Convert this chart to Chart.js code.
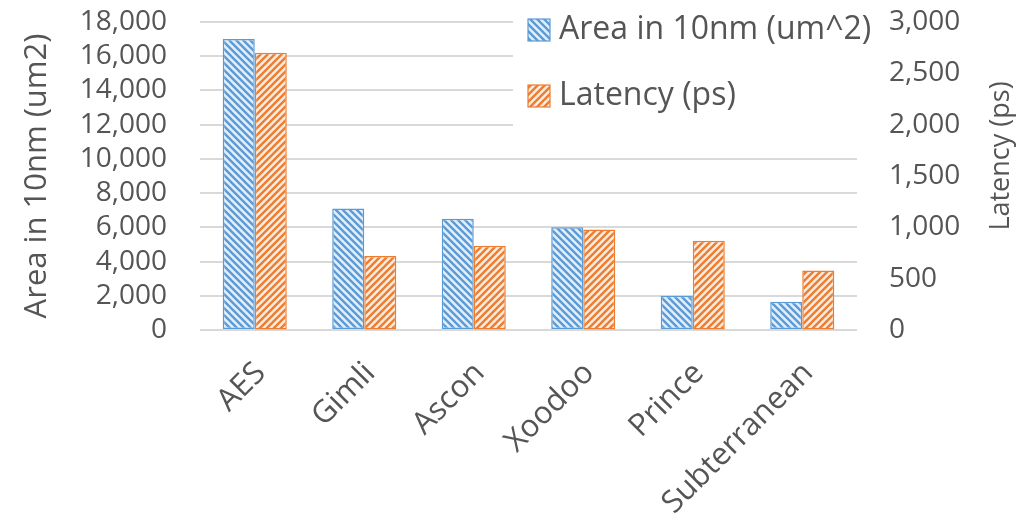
<!DOCTYPE html>
<html>
<head>
<meta charset="utf-8">
<script src="https://cdn.jsdelivr.net/npm/chart.js@4/dist/chart.umd.min.js"></script>
<style>
  html, body { margin: 0; padding: 0; background: #fff; }
  #wrap { width: 1026px; height: 528px; }
</style>
</head>
<body>
<div id="wrap"><canvas id="chart" width="1026" height="528"></canvas></div>
<script>
const categories = ["AES", "Gimli", "Ascon", "Xoodoo", "Prince", "Subterranean"];
const areaValues = [17000, 7100, 6500, 6000, 2000, 1650];
const latencyValues = [2700, 720, 820, 980, 870, 580];
const areaLabel = "Area in 10nm (um^2)";
const latencyLabel = "Latency (ps)";
const leftTitle = "Area in 10nm (um2)";
const rightTitle = "Latency (ps)";

const TEXT = "#555555";
const FONT = "'Open Sans', sans-serif";
const CLEAR = "rgba(0,0,0,0)";

// diagonal hatch tile, dir "down" = \\\ , "up" = ///
function makeHatch(bg, fg, dir) {
  const n = 7;
  const c = document.createElement("canvas");
  c.width = n; c.height = n;
  const g = c.getContext("2d");
  g.fillStyle = bg;
  g.fillRect(0, 0, n, n);
  g.strokeStyle = fg;
  g.lineWidth = 2.4;
  g.beginPath();
  for (let k = -1; k <= 2; k++) {
    if (dir === "down") {
      g.moveTo(-1, -1 + k * n);
      g.lineTo(n + 1, n + 1 + k * n);
    } else {
      g.moveTo(-1, k * n + 1);
      g.lineTo(n + 1, k * n - n - 1);
    }
  }
  g.stroke();
  return g.createPattern(c, "repeat");
}

const ctx = document.getElementById("chart").getContext("2d");
const bluePattern = makeHatch("#E2EEF9", "#5B9BD5", "down");
const orangePattern = makeHatch("#FCEBDF", "#ED7D31", "up");

// legend drawn inside the plot on a white box, plus the right title reading upward
const overlayPlugin = {
  id: "overlay",
  beforeDatasetsDraw(chart) {
    const c = chart.ctx;
    const area = chart.chartArea;
    c.save();
    c.fillStyle = "#fff";
    c.fillRect(513, area.top - 3, area.right - 513, 140 - area.top + 3);
    const items = [
      { label: chart.data.datasets[0].label, fill: bluePattern, stroke: "#5B9BD5", y: 30 },
      { label: chart.data.datasets[1].label, fill: orangePattern, stroke: "#ED7D31", y: 96 }
    ];
    items.forEach((it) => {
      c.fillStyle = it.fill;
      c.fillRect(528, it.y - 11, 22, 22);
      c.strokeStyle = it.stroke;
      c.lineWidth = 1.2;
      c.strokeRect(528, it.y - 11, 22, 22);
      c.fillStyle = TEXT;
      c.font = "32px " + FONT;
      c.textAlign = "left";
      c.textBaseline = "middle";
      c.fillText(it.label, 559, it.y);
    });
    c.restore();
  },
  afterDraw(chart) {
    const c = chart.ctx;
    c.save();
    c.translate(1001, 156);
    c.rotate(-Math.PI / 2);
    c.fillStyle = TEXT;
    c.font = "27px " + FONT;
    c.textAlign = "center";
    c.textBaseline = "middle";
    c.fillText(rightTitle, 0, 0);
    c.restore();
  }
};

new Chart(ctx, {
  type: "bar",
  data: {
    labels: categories,
    datasets: [
      {
        label: areaLabel,
        data: areaValues,
        yAxisID: "y",
        backgroundColor: bluePattern,
        borderColor: "#5B9BD5",
        borderWidth: 1.5,
        borderSkipped: false,
        categoryPercentage: 0.585,
        barPercentage: 1.0
      },
      {
        label: latencyLabel,
        data: latencyValues,
        yAxisID: "y1",
        backgroundColor: orangePattern,
        borderColor: "#ED7D31",
        borderWidth: 1.5,
        borderSkipped: false,
        categoryPercentage: 0.585,
        barPercentage: 1.0
      }
    ]
  },
  options: {
    responsive: false,
    animation: false,
    devicePixelRatio: 1,
    layout: { padding: { top: 22, left: 0, right: 0, bottom: 0 } },
    plugins: {
      legend: { display: false },
      tooltip: { enabled: false }
    },
    scales: {
      x: {
        grid: { display: true, drawOnChartArea: false, tickLength: 25, tickColor: CLEAR },
        border: { display: false },
        ticks: {
          autoSkip: false,
          minRotation: 45,
          maxRotation: 45,
          padding: 0,
          labelOffset: 6,
          color: TEXT,
          font: { family: FONT, size: 31 }
        },
        afterFit(scale) { scale.height = 198; }
      },
      y: {
        position: "left",
        min: 0,
        max: 18000,
        border: { display: false },
        grid: { color: "#D9D9D9", lineWidth: 2, drawTicks: true, tickLength: 33, tickColor: CLEAR },
        ticks: {
          stepSize: 2000,
          autoSkip: false,
          padding: 0,
          color: TEXT,
          font: { family: FONT, size: 28, lineHeight: 1.0 },
          callback: (v) => v.toLocaleString("en-US")
        },
        title: {
          display: true,
          text: leftTitle,
          color: TEXT,
          font: { family: FONT, size: 31 },
          padding: { top: 19, bottom: 0 }
        },
        afterFit(scale) { scale.width = 200; }
      },
      y1: {
        position: "right",
        min: 0,
        max: 3000,
        border: { display: false },
        grid: { display: true, drawOnChartArea: false, tickLength: 32, tickColor: CLEAR },
        ticks: {
          stepSize: 500,
          autoSkip: false,
          padding: 0,
          color: TEXT,
          font: { family: FONT, size: 28, lineHeight: 1.0 },
          callback: (v) => v.toLocaleString("en-US")
        },
        afterFit(scale) { scale.width = 169; }
      }
    }
  },
  plugins: [overlayPlugin]
});
</script>
</body>
</html>
